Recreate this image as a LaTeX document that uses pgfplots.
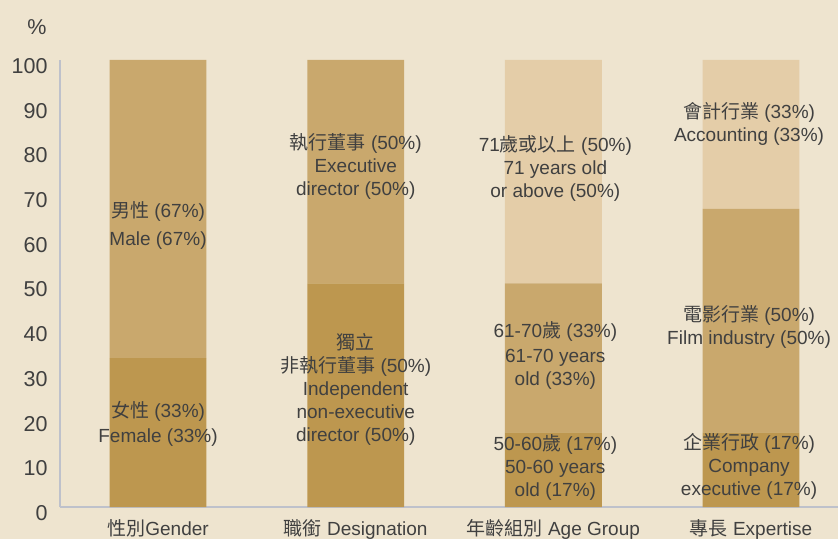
\documentclass[border=0pt]{standalone}
\usepackage{fontspec}
\setmainfont{Liberation Sans}
\newfontfamily\cjk{Noto Sans CJK TC}
\usepackage{pgfplots}
\pgfplotsset{compat=1.18}
\definecolor{bg}{HTML}{EEE4CF}
\definecolor{c1}{HTML}{BD974F}
\definecolor{c2}{HTML}{C9A86D}
\definecolor{c3}{HTML}{E4CDA8}
\definecolor{axc}{HTML}{BEC1CB}
\definecolor{txt}{HTML}{404040}
\newcommand{\fs}{\fontsize{19bp}{23bp}\selectfont}
\begin{document}
\begin{tikzpicture}
\fill[bg] (-60bp,-32bp) rectangle (778bp,507bp);
\begin{axis}[
 at={(0,0)}, anchor=south west,
 scale only axis, width=778bp, height=447bp,
 ymin=0, ymax=100, xmin=-0.496, xmax=3.44,
 ytick={0,10,...,100},
 xtick={0,1,2,3},
 xticklabels={{\cjk 性別}Gender, {\cjk 職銜} Designation, {\cjk 年齡組別} Age Group, {\cjk 專長} Expertise},
 axis x line=bottom, axis y line=left,
 axis line style={axc, line width=1.3bp, -},
 major tick length=0pt,
 ybar stacked, bar width=0.49,
 tick label style={text=txt},
 yticklabel style={font=\fontsize{21.5bp}{24bp}\selectfont, xshift=-9bp, yshift=-6bp},
 xticklabel style={font=\fs, yshift=-9bp},
 /pgf/number format/assume math mode=true,
 clip=false,
]
\addplot[fill=c1, draw=none] coordinates {(0,33.3) (1,50) (2,16.7) (3,16.7)};
\addplot[fill=c2, draw=none] coordinates {(0,66.7) (1,50) (2,33.3) (3,50)};
\addplot[fill=c3, draw=none] coordinates {(0,0) (1,0) (2,50) (3,33.3)};

\coordinate (m) at (axis cs:0,62.9);
\coordinate (f) at (axis cs:0,18.5);
\coordinate (e) at (axis cs:1,76.1);
\coordinate (i) at (axis cs:1,26.3);
\coordinate (a3) at (axis cs:2.01,75.7);
\coordinate (a2) at (axis cs:2.01,34.0);
\coordinate (a1) at (axis cs:2.01,8.8);
\coordinate (x3) at (axis cs:2.99,85.8);
\coordinate (x2) at (axis cs:2.99,40.2);
\coordinate (x1) at (axis cs:2.99,9.0);
\coordinate (pc) at (rel axis cs:0,1);
\end{axis}
\begin{scope}[every node/.style={align=center, font=\fs, text=txt}]
\node at (m) {{\cjk 男性} (67\%)\\[5bp]Male (67\%)};
\node at (f) {{\cjk 女性} (33\%)\\[2bp]Female (33\%)};
\node at (e) {{\cjk 執行董事} (50\%)\\Executive\\director (50\%)};
\node at (i) {{\cjk 獨立}\\{\cjk 非執行董事} (50\%)\\Independent\\non-executive\\director (50\%)};
\node at (a3) {71{\cjk 歲或以上} (50\%)\\71 years old\\or above (50\%)};
\node at (a2) {61-70{\cjk 歲} (33\%)\\[2bp]61-70 years\\old (33\%)};
\node at (a1) {50-60{\cjk 歲} (17\%)\\50-60 years\\old (17\%)};
\node at (x3) {{\cjk 會計行業} (33\%)\\Accounting (33\%)};
\node at (x2) {{\cjk 電影行業} (50\%)\\Film industry (50\%)};
\node at (x1) {{\cjk 企業行政} (17\%)\\Company\\executive (17\%)};
\end{scope}
\node[font=\fontsize{21.5bp}{24bp}\selectfont, text=txt] at ([xshift=-23bp, yshift=33bp]pc) {\%};
\pgfresetboundingbox
\useasboundingbox (-60bp,-32bp) rectangle (778bp,507bp);
\end{tikzpicture}
\end{document}
